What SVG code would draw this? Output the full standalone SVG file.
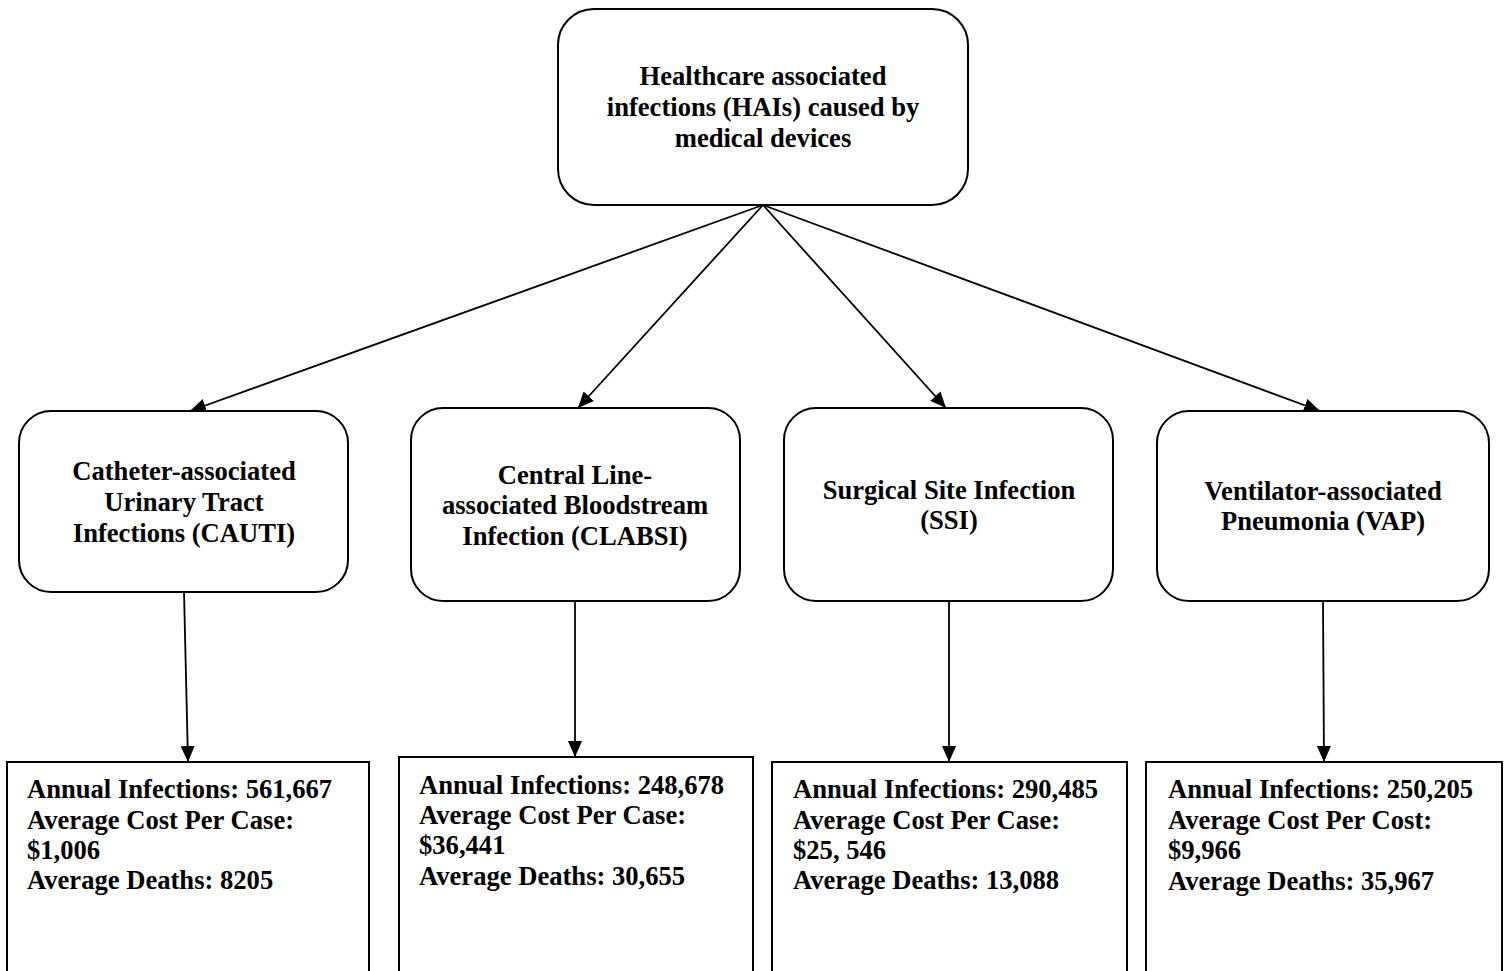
<svg xmlns="http://www.w3.org/2000/svg" width="1510" height="971" viewBox="0 0 1510 971">
<style>
.n{fill:#fff;stroke:#000;stroke-width:2}
.t{font-family:"Liberation Serif","Times New Roman",serif;font-weight:bold;font-size:26.6px;fill:#000}
.c{text-anchor:middle}
.e{stroke:#000;stroke-width:1.8;fill:none;marker-end:url(#ah)}
</style>
<defs>
<marker id="ah" viewBox="0 0 16 14" refX="16" refY="7" markerWidth="16" markerHeight="14" markerUnits="userSpaceOnUse" orient="auto"><path d="M0,0 L16,7 L0,14 z" fill="#000"/></marker>
</defs>
<rect width="1510" height="971" fill="#fff"/>
<g id="connectors">
<line class="e" x1="763" y1="205" x2="190" y2="411"/>
<line class="e" x1="763" y1="205" x2="578" y2="408"/>
<line class="e" x1="763" y1="205" x2="946" y2="408"/>
<line class="e" x1="763" y1="205" x2="1320" y2="411"/>
<line class="e" x1="184" y1="592" x2="188" y2="762"/>
<line class="e" x1="575" y1="601" x2="575" y2="757"/>
<line class="e" x1="949" y1="601" x2="949" y2="762"/>
<line class="e" x1="1323" y1="601" x2="1324" y2="762"/>
</g>
<g id="root">
<rect class="n" x="558" y="9" width="410" height="196" rx="36"/>
<text class="t c" x="763" y="85">Healthcare associated</text>
<text class="t c" x="763" y="116">infections (HAIs) caused by</text>
<text class="t c" x="763" y="147">medical devices</text>
</g>
<g id="cauti">
<rect class="n" x="19" y="411" width="329" height="181" rx="32"/>
<text class="t c" x="184" y="480">Catheter-associated</text>
<text class="t c" x="184" y="511">Urinary Tract</text>
<text class="t c" x="184" y="542">Infections (CAUTI)</text>
</g>
<g id="clabsi">
<rect class="n" x="411" y="408" width="329" height="193" rx="32"/>
<text class="t c" x="575" y="484">Central Line-</text>
<text class="t c" x="575" y="514">associated Bloodstream</text>
<text class="t c" x="575" y="545">Infection (CLABSI)</text>
</g>
<g id="ssi">
<rect class="n" x="784" y="408" width="329" height="193" rx="32"/>
<text class="t c" x="949" y="499">Surgical Site Infection</text>
<text class="t c" x="949" y="529">(SSI)</text>
</g>
<g id="vap">
<rect class="n" x="1157" y="411" width="332" height="190" rx="32"/>
<text class="t c" x="1323" y="500">Ventilator-associated</text>
<text class="t c" x="1323" y="530">Pneumonia (VAP)</text>
</g>
<g id="cauti-stats">
<rect class="n" x="7" y="762" width="362" height="220"/>
<text class="t" x="27" y="798">Annual Infections: 561,667</text>
<text class="t" x="27" y="829">Average Cost Per Case:</text>
<text class="t" x="27" y="859">$1,006</text>
<text class="t" x="27" y="889">Average Deaths: 8205</text>
</g>
<g id="clabsi-stats">
<rect class="n" x="399" y="757" width="354" height="225"/>
<text class="t" x="419" y="794">Annual Infections: 248,678</text>
<text class="t" x="419" y="824">Average Cost Per Case:</text>
<text class="t" x="419" y="854">$36,441</text>
<text class="t" x="419" y="885">Average Deaths: 30,655</text>
</g>
<g id="ssi-stats">
<rect class="n" x="772" y="762" width="355" height="220"/>
<text class="t" x="793" y="798">Annual Infections: 290,485</text>
<text class="t" x="793" y="829">Average Cost Per Case:</text>
<text class="t" x="793" y="859">$25, 546</text>
<text class="t" x="793" y="889">Average Deaths: 13,088</text>
</g>
<g id="vap-stats">
<rect class="n" x="1146" y="762" width="356" height="220"/>
<text class="t" x="1168" y="798">Annual Infections: 250,205</text>
<text class="t" x="1168" y="829">Average Cost Per Cost:</text>
<text class="t" x="1168" y="859">$9,966</text>
<text class="t" x="1168" y="890">Average Deaths: 35,967</text>
</g>
</svg>
